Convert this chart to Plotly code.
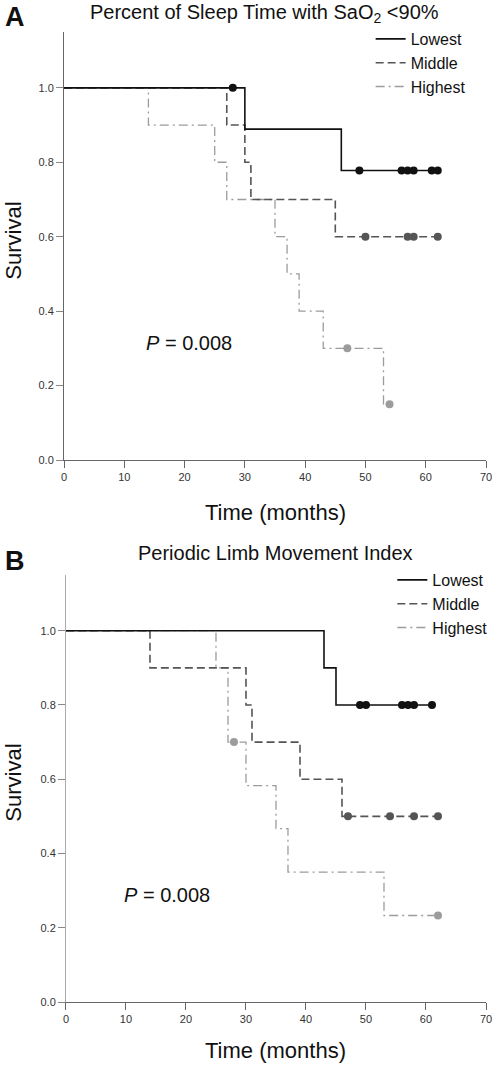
import plotly.graph_objects as go

# ---------------- data ----------------
groups = ["Lowest", "Middle", "Highest"]

# Panel A: Percent of Sleep Time with SaO2 <90%
a_low_times = [30, 46]
a_low_surv = [0.889, 0.778]
a_low_cens = [28, 49, 56, 57, 58, 61, 62]

a_mid_times = [27, 30, 31, 45]
a_mid_surv = [0.9, 0.8, 0.7, 0.6]
a_mid_cens = [50, 57, 58, 62]

a_high_times = [14, 25, 27, 35, 37, 39, 43, 53]
a_high_surv = [0.9, 0.8, 0.7, 0.6, 0.5, 0.4, 0.3, 0.15]
a_high_cens = [47, 54]

# Panel B: Periodic Limb Movement Index
b_low_times = [43, 45]
b_low_surv = [0.9, 0.8]
b_low_cens = [49, 50, 56, 57, 58, 61]

b_mid_times = [14, 30, 31, 39, 46]
b_mid_surv = [0.9, 0.8, 0.7, 0.6, 0.5]
b_mid_cens = [47, 54, 58, 62]

b_high_times = [25, 27, 30, 35, 37, 53]
b_high_surv = [0.9, 0.7, 0.583, 0.467, 0.35, 0.233]
b_high_cens = [28, 62]

x_ticks = [0, 10, 20, 30, 40, 50, 60, 70]
y_ticks = [0.0, 0.2, 0.4, 0.6, 0.8, 1.0]
p_text = "<i>P</i> = 0.008"

# ---------------- styling ----------------
FONT = "Liberation Sans, Arial, Helvetica, sans-serif"
colors = {"Lowest": "#111111", "Middle": "#555555", "Highest": "#9c9c9c"}
dashes = {"Lowest": "solid", "Middle": "8px,4px", "Highest": "9px,4px,2px,4px"}
widths = {"Lowest": 1.6, "Middle": 1.6, "Highest": 1.3}

W, H = 500, 1067
L, R, T, B = 64, 8, 32, 65
PW, PH = W - L - R, H - T - B


def pxx(x):
    return (x - L) / PW


def pxy(y):
    return (H - B - y) / PH


def surv_at(t, times, survs):
    s = 1.0
    for tt, ss in zip(times, survs):
        if tt <= t:
            s = ss
    return s


fig = go.Figure()

panels = [
    ("x", "y", "legend", {
        "Lowest": (a_low_times, a_low_surv, a_low_cens),
        "Middle": (a_mid_times, a_mid_surv, a_mid_cens),
        "Highest": (a_high_times, a_high_surv, a_high_cens),
    }),
    ("x2", "y2", "legend2", {
        "Lowest": (b_low_times, b_low_surv, b_low_cens),
        "Middle": (b_mid_times, b_mid_surv, b_mid_cens),
        "Highest": (b_high_times, b_high_surv, b_high_cens),
    }),
]

for xa, ya, leg, data in panels:
    for rank, g in reversed(list(enumerate(groups))):
        times, survs, cens = data[g]
        end = max(max(times), max(cens))
        xs = [0] + list(times) + [end]
        ys = [1.0] + list(survs) + [survs[-1]]
        fig.add_trace(go.Scatter(
            x=xs, y=ys, mode="lines", line_shape="hv",
            line=dict(color=colors[g], width=widths[g], dash=dashes[g]),
            name=g, legend=leg, legendrank=rank + 1,
            xaxis=xa, yaxis=ya, hoverinfo="skip"))
        fig.add_trace(go.Scatter(
            x=cens, y=[surv_at(c, times, survs) for c in cens],
            mode="markers", marker=dict(color=colors[g], size=8),
            showlegend=False, xaxis=xa, yaxis=ya, hoverinfo="skip"))

axis_common = dict(
    showgrid=False, zeroline=False, showline=True, linewidth=1,
    ticks="outside", ticklen=7, tickwidth=1, ticklabeloverflow="allow",
    tickfont=dict(family=FONT, size=11, color="#333333"),
)

fig.update_layout(
    width=W, height=H,
    margin=dict(l=L, r=R, t=T, b=B),
    paper_bgcolor="white", plot_bgcolor="white",
    font=dict(family=FONT, color="#111111"),
    xaxis=dict(domain=[0, 1], range=[0, 70], tickvals=x_ticks, anchor="y",
               linecolor="#666666", tickcolor="#666666", **axis_common),
    yaxis=dict(domain=[pxy(460), 1], range=[0, 1.15], tickvals=y_ticks,
               tickformat=".1f", anchor="x",
               linecolor="#666666", tickcolor="#888888", **axis_common),
    xaxis2=dict(domain=[pxx(66), 1], range=[0, 70], tickvals=x_ticks, anchor="y2",
                linecolor="#666666", tickcolor="#666666", **axis_common),
    yaxis2=dict(domain=[0, pxy(575)], range=[0, 1.15], tickvals=y_ticks,
                tickformat=".1f", anchor="x2",
                linecolor="#aaaaaa", tickcolor="#888888", **axis_common),
    legend=dict(x=pxx(375), y=pxy(22), xanchor="left", yanchor="top",
                font=dict(family=FONT, size=16, color="#111111"),
                bgcolor="rgba(0,0,0,0)", tracegroupgap=0),
    legend2=dict(x=pxx(397), y=pxy(563), xanchor="left", yanchor="top",
                 font=dict(family=FONT, size=16, color="#111111"),
                 bgcolor="rgba(0,0,0,0)", tracegroupgap=0),
    showlegend=True,
)

ann = []


def add_text(text, x, y, size, bold=False, angle=0, xanchor="center"):
    ann.append(dict(text=("<b>%s</b>" % text) if bold else text,
                    x=pxx(x), y=pxy(y), xref="paper", yref="paper",
                    xanchor=xanchor, yanchor="middle", showarrow=False,
                    textangle=angle,
                    font=dict(family=FONT, size=size, color="#111111")))


add_text("A", 14, 17, 27, bold=True)
add_text("Percent of Sleep Time with SaO<sub>2</sub> &lt;90%", 267, 13, 20)
add_text("Survival", 12, 241, 22, angle=-90)
add_text("Time (months)", 278, 512, 22)
add_text(p_text, 191, 343, 20)

add_text("B", 14, 561, 27, bold=True)
add_text("Periodic Limb Movement Index", 279, 553, 20)
add_text("Survival", 12, 783, 22, angle=-90)
add_text("Time (months)", 279, 1050, 22)
add_text(p_text, 168, 895, 20)

fig.update_layout(annotations=ann)

fig.write_html(
    "out.html",
    config={"displayModeBar": False, "staticPlot": True},
    post_script="document.body.style.margin='0';document.body.style.overflow='hidden';",
)
